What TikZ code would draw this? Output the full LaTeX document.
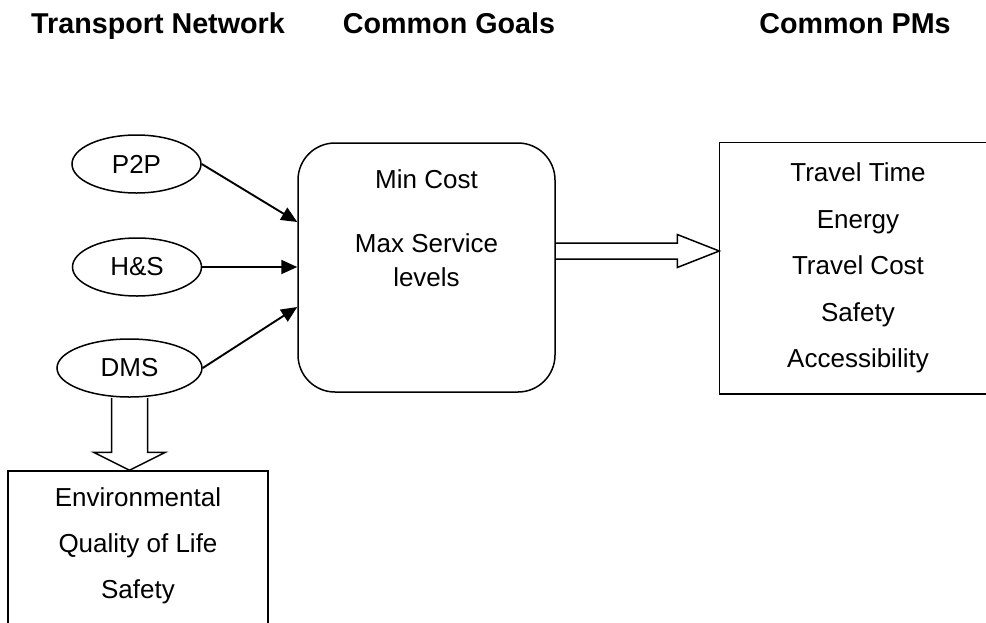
\documentclass[tikz,border=0pt]{standalone}
\usepackage{fontspec}
\setmainfont{Liberation Sans}
\usetikzlibrary{shapes}
\usetikzlibrary{arrows.meta}
\usetikzlibrary{calc}

\begin{document}
\begin{tikzpicture}[x=1pt,y=-1pt,line width=1.5pt,>={Triangle[length=16pt,width=14pt]},
	head node/.style={anchor=base, inner sep=0, font=\fontsize{28.7}{34}\selectfont\bfseries},
	oval node/.style={ellipse, draw, minimum width=129pt, minimum height=58pt, inner sep=0,
	  font=\fontsize{26}{30}\selectfont},
	box node/.style={rectangle, draw, inner sep=0, align=center},
	list node/.style={align=center, inner sep=0}]

	  \path[use as bounding box, clip] (0,0) rectangle (986,622);

	  % column titles
	  \node[head node] at (158,33) (tn) {Transport Network};
	  \node[head node] at (449,33) (cg) {Common Goals};
	  \node[head node] at (855,33) (cp) {Common PMs};

	  \node[oval node] at (136.5,164) (p2p) {P2P};
	  \node[oval node] at (137,267) (hs) {H\&S};
	  \node[oval node, minimum width=145pt] at (129.5,368) (dms) {DMS};

	  \node[box node, rounded corners=37pt, minimum width=257pt, minimum height=249pt]
	    at (426.5,267.5) (goals) {};
	  \node[list node, anchor=north, font=\fontsize{26}{34}\selectfont] at (426.5,169.4) (goaltext)
	    {Min Cost\\[30pt]Max Service\\levels};

	  % boxes run past the right and lower edges
	  \node[box node, draw=none, minimum width=276pt, minimum height=250pt, font=\fontsize{26}{46.5}\selectfont]
	    at (858,268) (pms) {Travel Time\\Energy\\Travel Cost\\Safety\\Accessibility};
	  \draw ($(pms.north east)+(40,0)$) -- (pms.north west) -- (pms.south west) -- ($(pms.south east)+(40,0)$);
	  \node[box node, minimum width=260pt, minimum height=171pt, font=\fontsize{26}{46}\selectfont]
	    at (138,556.5) (env) {Environmental\\Quality of Life\\Safety\\[-20pt]};

	  \path[->, line width=1.9pt]
	  (p2p.east) edge (goals.west |- 0,222)
	  (hs.east) edge (goals.west |- hs.east)
	  (dms.east) edge (goals.west |- 0,307)
	  ;

	  % hollow arrows
	  \coordinate (rtip) at (pms.west |- 0,251);
	  \draw (goals.east |- 0,243) -- ($(rtip)+(-42,-8)$) -- ($(rtip)+(-42,-16.5)$) -- (rtip)
	    -- ($(rtip)+(-42,16.5)$) -- ($(rtip)+(-42,8)$) -- (goals.east |- 0,259);
	  \coordinate (dtip) at (dms.south |- env.north);
	  \draw ($(dms.south)+(-18,0)$) -- ($(dtip)+(-18,-18)$) -- ($(dtip)+(-36,-18)$) -- (dtip)
	    -- ($(dtip)+(36,-18)$) -- ($(dtip)+(18,-18)$) -- ($(dms.south)+(18,0)$);

	\end{tikzpicture}
\end{document}
